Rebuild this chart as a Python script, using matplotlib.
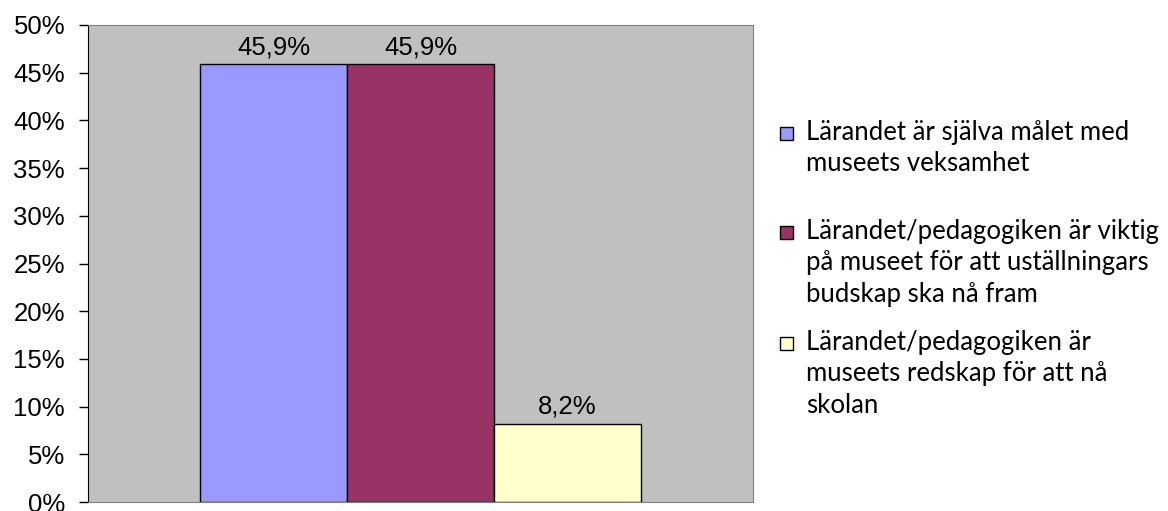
import matplotlib
matplotlib.use("Agg")
import matplotlib.pyplot as plt
from matplotlib.patches import Rectangle

labels = [
    "Lärandet är själva målet med\nmuseets veksamhet",
    "Lärandet/pedagogiken är viktig\npå museet för att uställningars\nbudskap ska nå fram",
    "Lärandet/pedagogiken är\nmuseets redskap för att nå\nskolan",
]
values = [45.9, 45.9, 8.2]
colors = ["#9999FF", "#993366", "#FFFFCC"]
yticks = [0, 5, 10, 15, 20, 25, 30, 35, 40, 45, 50]

fig = plt.figure(figsize=(11.68, 5.11), dpi=100)
ax = fig.add_axes([88/1168, 1-502/511, (753-88)/1168, (502-25)/511])
ax.set_facecolor("#C0C0C0")

w = 0.221
offsets = [-w, 0, w]
for off, v, c in zip(offsets, values, colors):
    ax.bar(off, v, width=w, color=c, edgecolor="black", linewidth=1, zorder=2)
    ax.annotate(f"{v:.1f}%".replace(".", ","), (off, v), xytext=(0, 3.5),
                textcoords="offset points", ha="center", va="bottom",
                fontsize=18.5, family="Liberation Sans")

ax.set_xlim(-0.5, 0.5)
ax.set_ylim(0, 50)
ax.set_yticks(yticks)
ax.set_yticklabels([f"{t}%" for t in yticks], fontsize=18.5, family="Liberation Sans")
ax.set_xticks([])
ax.tick_params(axis="y", direction="out", length=6.5, width=1, color="black", pad=10)
for s in ["top", "right", "bottom"]:
    ax.spines[s].set_color("#808080")
ax.spines["left"].set_color("black")

# legend drawn in figure pixels
H = 511
W = 1168
line_tops = [127, 226, 337]
for lab, c, top in zip(labels, colors, line_tops):
    fig.patches.append(Rectangle((780/W, 1-(top+13)/H), 13/W, 13/H, transform=fig.transFigure,
                                 facecolor=c, edgecolor="black", linewidth=1))
    fig.text(806/W, 1-(top-7)/H, lab, ha="left", va="top", fontsize=18.5,
             family="Lato", linespacing=1.32)

fig.savefig("out.png", dpi=100)
